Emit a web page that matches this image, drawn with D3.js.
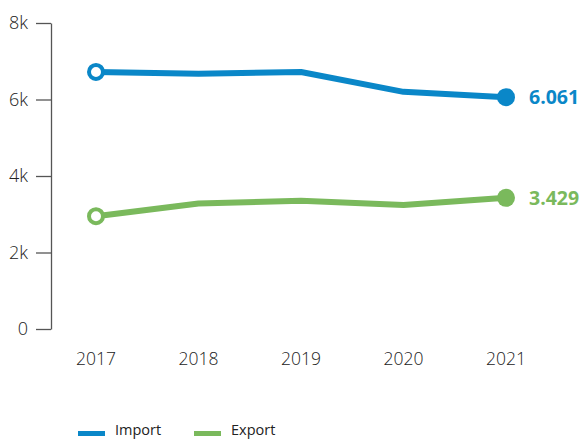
<!DOCTYPE html>
<html>
<head>
<meta charset="utf-8">
<script src="https://cdn.jsdelivr.net/npm/d3@7"></script>
<style>
  body { margin: 0; background: #fff; }
  text { font-family: "Open Sans", "Noto Sans", sans-serif; }
</style>
</head>
<body>
<script>
var width = 583,
    height = 439;

// data
var years = ["2017", "2018", "2019", "2020", "2021"];
var importVals = [6720, 6670, 6720, 6200, 6061];
var exportVals = [2950, 3280, 3350, 3240, 3429];
var yTicks = [0, 2000, 4000, 6000, 8000];
var seriesNames = ["Import", "Export"];
var seriesColors = ["#0a87c8", "#7ab95c"];
var endLabels = ["6.061", "3.429"];

var series = [importVals, exportVals];

var svg = d3.select("body")
    .append("svg")
    .attr("width", width)
    .attr("height", height);

var x = d3.scalePoint()
    .domain(years)
    .range([96, 506]);

var y = d3.scaleLinear()
    .domain([0, 8000])
    .range([329, 23]);

// y axis
var yAxis = d3.axisLeft(y)
    .tickValues(yTicks)
    .tickSize(15)
    .tickSizeOuter(0)
    .tickPadding(8)
    .tickFormat(function(d) { return d === 0 ? "0" : (d / 1000) + "k"; });

var ya = svg.append("g")
    .attr("transform", "translate(51,0)")
    .call(yAxis);
ya.select(".domain").attr("stroke", "#555").attr("stroke-width", 1.3);
ya.selectAll(".tick line").attr("stroke", "#555").attr("stroke-width", 1.3);
ya.selectAll(".tick text")
    .attr("fill", "#222")
    .style("font-size", "18px")
    .style("font-weight", 300);

// x labels
svg.append("g").selectAll("text")
    .data(years)
    .enter().append("text")
    .attr("x", function(d) { return x(d); })
    .attr("y", 365)
    .attr("text-anchor", "middle")
    .attr("fill", "#222")
    .style("font-size", "17.5px")
    .style("font-weight", 300)
    .text(function(d) { return d; });

var line = d3.line()
    .x(function(d, i) { return x(years[i]); })
    .y(function(d) { return y(d); });

series.forEach(function(vals, s) {
    var c = seriesColors[s];
    svg.append("path")
        .datum(vals)
        .attr("d", line)
        .attr("fill", "none")
        .attr("stroke", c)
        .attr("stroke-width", 6)
        .attr("stroke-linejoin", "round");

    // open start marker
    svg.append("circle")
        .attr("cx", x(years[0]))
        .attr("cy", y(vals[0]))
        .attr("r", 7)
        .attr("fill", "#fff")
        .attr("stroke", c)
        .attr("stroke-width", 4);

    // filled end marker
    var last = vals.length - 1;
    svg.append("circle")
        .attr("cx", x(years[last]))
        .attr("cy", y(vals[last]))
        .attr("r", 9)
        .attr("fill", c);

    svg.append("text")
        .attr("x", 529)
        .attr("y", y(vals[last]) + 7)
        .attr("fill", c)
        .style("font-size", "19.5px")
        .style("font-weight", 700)
        .text(endLabels[s]);
});

// legend
var legX = [78, 194];
seriesNames.forEach(function(name, s) {
    svg.append("rect")
        .attr("x", legX[s])
        .attr("y", 431)
        .attr("width", 27)
        .attr("height", 5)
        .attr("fill", seriesColors[s]);
    svg.append("text")
        .attr("x", legX[s] + 37)
        .attr("y", 435)
        .attr("fill", "#222")
        .style("font-size", "14.5px")
        .text(name);
});
</script>
</body>
</html>
